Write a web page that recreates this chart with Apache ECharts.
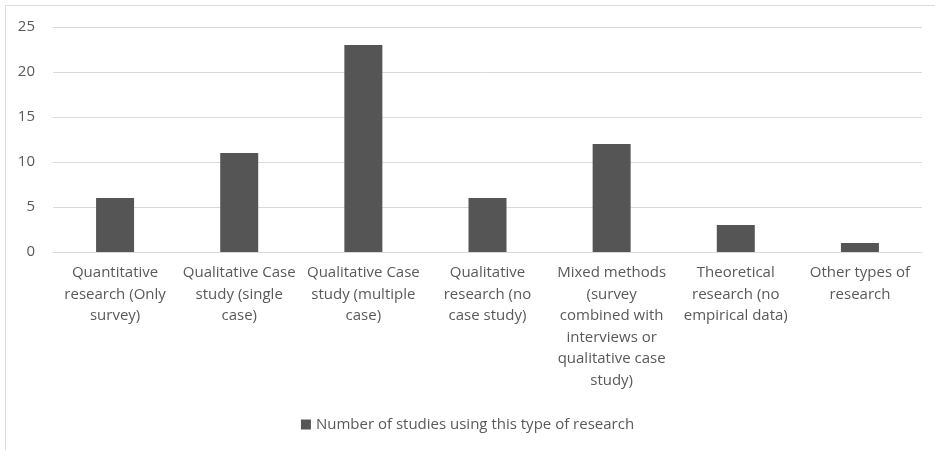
<!DOCTYPE html>
<html>
<head>
<meta charset="utf-8">
<script src="https://cdn.jsdelivr.net/npm/echarts@6/dist/echarts.min.js"></script>
<style>
  html, body { margin: 0; padding: 0; background: #fff; }
  #main { width: 935px; height: 450px; }
</style>
</head>
<body>
<div id="main"></div>
<script>
// categories (line breaks as in the original)
var categories = [
    'Quantitative\nresearch (Only\nsurvey)',
    'Qualitative Case\nstudy (single\ncase)',
    'Qualitative Case\nstudy (multiple\ncase)',
    'Qualitative\nresearch (no\ncase study)',
    'Mixed methods\n(survey\ncombined with\ninterviews or\nqualitative case\nstudy)',
    'Theoretical\nresearch (no\nempirical data)',
    'Other types of\nresearch'
];
var studies = [6, 11, 23, 6, 12, 3, 1];
var seriesName = 'Number of studies using this type of research';

var myChart = echarts.init(document.getElementById('main'));

var font = '"Open Sans", "Liberation Sans", sans-serif';

var option = {
    animation: false,
    textStyle: { fontFamily: font },
    graphic: [
        {
            type: 'rect',
            shape: { x: 5.5, y: 5.5, width: 940, height: 460 },
            style: { fill: null, stroke: '#d9d9d9', lineWidth: 1 },
            silent: true
        }
    ],
    grid: { left: 53, right: 13, top: 27, bottom: 198, containLabel: false },
    legend: {
        bottom: 13,
        left: 'center',
        itemWidth: 10,
        itemHeight: 10,
        itemGap: 5,
        icon: 'rect',
        textStyle: { color: '#595959', fontSize: 15, fontFamily: font },
        data: [seriesName]
    },
    xAxis: {
        type: 'category',
        data: categories,
        axisLine: { lineStyle: { color: '#d9d9d9' } },
        axisTick: { show: false },
        axisLabel: {
            interval: 0,
            color: '#595959',
            fontSize: 15,
            lineHeight: 21.5,
            margin: 10,
            fontFamily: font
        }
    },
    yAxis: {
        type: 'value',
        min: 0,
        max: 25,
        interval: 5,
        axisLine: { show: false },
        axisTick: { show: false },
        splitLine: { lineStyle: { color: '#d9d9d9' } },
        axisLabel: { color: '#595959', fontSize: 15, margin: 18, fontFamily: font }
    },
    series: [
        {
            name: seriesName,
            type: 'bar',
            data: studies,
            barWidth: 38,
            itemStyle: { color: '#555555' }
        }
    ]
};

myChart.setOption(option);
</script>
</body>
</html>
